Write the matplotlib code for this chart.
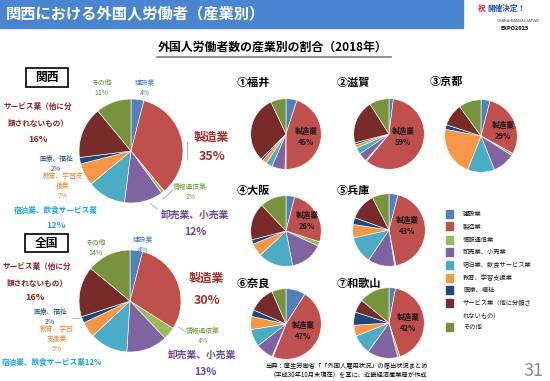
#!/usr/bin/env python3

import matplotlib
matplotlib.use("Agg")
import matplotlib.pyplot as plt
from matplotlib.lines import Line2D
from matplotlib.patches import Rectangle

plt.rcParams["font.family"] = ["Noto Sans CJK JP", "DejaVu Sans"]

W, H = 550, 381

# industries, in the order the pies are drawn (clockwise from 12 o'clock)
categories = [
    "建設業",
    "製造業",
    "情報通信業",
    "卸売業、小売業",
    "宿泊業、飲食サービス業",
    "教育、学習支援業",
    "医療、福祉",
    "サービス業（他に分類さ\nれないもの）",
    "その他",
]
colors = ["#4F81BD", "#C0504D", "#9BBB59", "#8064A2", "#4BACC6",
          "#F79646", "#1F497D", "#772C2A", "#77933C"]

# shares in percent
kansai = [4, 35, 1, 12, 12, 7, 2, 16, 11]
zenkoku = [4, 30, 4, 13, 12, 5, 2, 16, 14]
fukui = [5, 45, 0.5, 6, 3, 2, 1, 30.5, 7]
shiga = [2, 59, 0.5, 4, 3, 1.5, 1, 20, 9]
kyoto = [4, 29, 1, 10, 12, 22, 2, 10, 10]
osaka = [4, 26, 2, 15, 16, 6, 2, 17, 12]
hyogo = [4, 43, 0.5, 12, 12, 6, 3, 12, 7.5]
nara = [9, 47, 0.5, 8, 8, 6, 3, 12, 6.5]
wakayama = [3, 42, 1, 14, 9, 5, 6, 6, 14]

pref_names = ["①福井", "②滋賀", "③京都", "④大阪", "⑤兵庫", "⑥奈良", "⑦和歌山"]
pref_values = [fukui, shiga, kyoto, osaka, hyogo, nara, wakayama]


def fx(x):
    return x / W


def fy(y):
    return 1 - y / H


def add_pie(fig, cx, cy, r, values):
    ax = fig.add_axes([(cx - r) / W, (H - cy - r) / H, 2 * r / W, 2 * r / H])
    ax.pie(values, colors=colors, startangle=90, counterclock=False,
           wedgeprops=dict(edgecolor="white", linewidth=0.4))
    ax.set_xlim(-1.02, 1.02)
    ax.set_ylim(-1.02, 1.02)
    ax.axis("off")
    return ax


def txt(fig, x, y, s, size, color="black", weight="normal", ha="center", **kw):
    fig.text(fx(x), fy(y), s, fontsize=size, color=color, fontweight=weight,
             ha=ha, va="center", **kw)


def line(fig, xs, ys, color="#A6A6A6", lw=0.6):
    fig.add_artist(Line2D([fx(x) for x in xs], [fy(y) for y in ys],
                          color=color, lw=lw, transform=fig.transFigure))


def main():
    fig = plt.figure(figsize=(W / 100, H / 100), dpi=100)

    # header bar
    fig.add_artist(Rectangle((0, fy(28)), fx(463), 28 / H, color="#4A86CF",
                             transform=fig.transFigure))
    txt(fig, 6, 14, "関西における外国人労働者（産業別）", 11, "white", "bold", ha="left")
    txt(fig, 478, 8, "祝", 5.5, "#E02020", "bold", ha="left")
    txt(fig, 487, 8, "開催決定！", 5.5, "#2050C0", "bold", ha="left")
    txt(fig, 518, 20, "OSAKA-KANSAI,JAPAN", 3, "#444444")
    txt(fig, 515, 29, "EXPO2025", 4, "black", "bold")

    txt(fig, 273, 47, "外国人労働者数の産業別の割合（2018年）", 8.6, "black", "bold")
    line(fig, [157, 391], [57, 57], "#7F7F7F", 1.2)

    # big pies
    add_pie(fig, 131, 151, 53, kansai)
    add_pie(fig, 130, 301, 52, zenkoku)

    for (x0, y0, x1, y1, s) in [(26, 68, 68, 87, "関西"), (25, 234, 68, 252, "全国")]:
        fig.add_artist(Rectangle((fx(x0), fy(y1)), (x1 - x0) / W, (y1 - y0) / H,
                                 facecolor="white", edgecolor="black", lw=1.2,
                                 transform=fig.transFigure))
        txt(fig, (x0 + x1) / 2, (y0 + y1) / 2, s, 8.5, "black", "bold")

    c_blue, c_red, c_green = "#4A7EBB", "#A5302D", "#6E9A3A"
    c_purple, c_cyan, c_orange = "#6A4A9C", "#1AA7E0", "#E6883A"
    c_navy, c_maroon, c_olive = "#1F497D", "#8B2323", "#5E7A2E"
    small = 4.9

    # 関西 labels
    txt(fig, 101, 88, "その他\n11%", small, c_olive, linespacing=1.4)
    txt(fig, 145, 88, "建設業\n4%", small, c_blue, linespacing=1.4)
    txt(fig, 211, 137, "製造業", 8.5, c_red, "bold")
    txt(fig, 212, 157, "35%", 9, c_red, "bold")
    line(fig, [187, 187], [142, 160])
    txt(fig, 190, 192, "情報通信業\n1%", small, c_green, linespacing=1.4)
    line(fig, [163, 173], [199, 190])
    txt(fig, 195, 215, "卸売業、小売業", 7, c_purple, "bold")
    txt(fig, 195, 232, "12%", 7.5, c_purple, "bold")
    line(fig, [150, 157], [203, 209])
    txt(fig, 56, 211, "宿泊業、飲食サービス業", 5.5, c_cyan, "bold")
    txt(fig, 56, 226, "12%", 6.5, c_cyan, "bold")
    txt(fig, 63, 186, "教育、学習支\n援業\n7%", small, c_orange, linespacing=1.4)
    txt(fig, 56, 164, "医療、福祉\n2%", small, c_navy, linespacing=1.4)
    txt(fig, 38, 115, "サービス業（他に分\n類されないもの）", 5.5, c_maroon, "bold",
        linespacing=2.2)
    txt(fig, 38, 139, "16%", 6.5, c_maroon, "bold")

    # 全国 labels
    txt(fig, 95, 248, "その他\n14%", small, c_olive, linespacing=1.4)
    txt(fig, 143, 245, "建設業\n4%", small, c_blue, linespacing=1.4)
    txt(fig, 206, 278, "製造業", 8.5, c_red, "bold")
    txt(fig, 207, 300, "30%", 9, c_red, "bold")
    txt(fig, 203, 336, "情報通信業\n4%", small, c_green, linespacing=1.4)
    line(fig, [178, 186], [327, 332])
    txt(fig, 202, 355, "卸売業、小売業", 7, c_purple, "bold")
    txt(fig, 205, 372, "13%", 7.5, c_purple, "bold")
    txt(fig, 2, 362, "宿泊業、飲食サービス業12%", 5.5, c_cyan, "bold", ha="left")
    txt(fig, 57, 339, "教育、学習\n支援業\n5%", small, c_orange, linespacing=1.4)
    txt(fig, 50, 317, "医療、福祉\n2%", small, c_navy, linespacing=1.4)
    line(fig, [72, 80], [318, 318])
    txt(fig, 37, 275, "サービス業（他に分\n類されないもの）", 5.5, c_maroon, "bold",
        linespacing=2.2)
    txt(fig, 35, 297, "16%", 6.5, c_maroon, "bold")

    # prefecture pies
    centers = [(286, 134), (389, 134), (481, 136), (286, 231), (389, 230),
               (286, 324), (389, 323)]
    radii = [36, 36, 37, 36, 37, 36, 36]
    title_pos = [(237, 82), (337, 82), (430, 81), (237, 190), (337, 190),
                 (237, 283), (337, 283)]
    label_pos = [(306, 137), (403, 137), (503, 131), (307, 221), (407, 226),
                 (303, 331), (408, 323)]
    for name, vals, (cx, cy), r, (tx, ty), (lx, ly) in zip(
            pref_names, pref_values, centers, radii, title_pos, label_pos):
        add_pie(fig, cx, cy, r, vals)
        txt(fig, tx, ty, name, 8, "black", "bold", ha="left")
        txt(fig, lx, ly, f"製造業\n{vals[1]:.0f}%", 5.5, "#1A1A1A", "bold",
            linespacing=1.3)

    # legend
    legend_y = [214, 226, 240, 252, 265, 278, 290, 303, 327]
    for cat, col, y in zip(categories, colors, legend_y):
        fig.add_artist(Rectangle((fx(446), fy(y + 4)), 7 / W, 8 / H, color=col,
                                 transform=fig.transFigure))
        if "\n" in cat:
            a, b = cat.split("\n")
            txt(fig, 463, y, a, 4.5, "#1A1A1A", ha="left")
            txt(fig, 463, y + 13, b, 4.5, "#1A1A1A", ha="left")
        else:
            txt(fig, 463, y, cat, 4.5, "#1A1A1A", ha="left")

    # source and page number
    txt(fig, 265, 366, "出典：厚生労働省「「外国人雇用状況」の届出状況まとめ", 4.5,
        "black", ha="left")
    txt(fig, 270, 375, "（平成30年10月末現在）を基に、近畿経済産業局が作成", 4.5,
        "black", ha="left")
    txt(fig, 534, 371, "31", 13, "#8C8C8C")

    fig.savefig("out.png", dpi=100)
    plt.close(fig)


if __name__ == "__main__":
    main()
